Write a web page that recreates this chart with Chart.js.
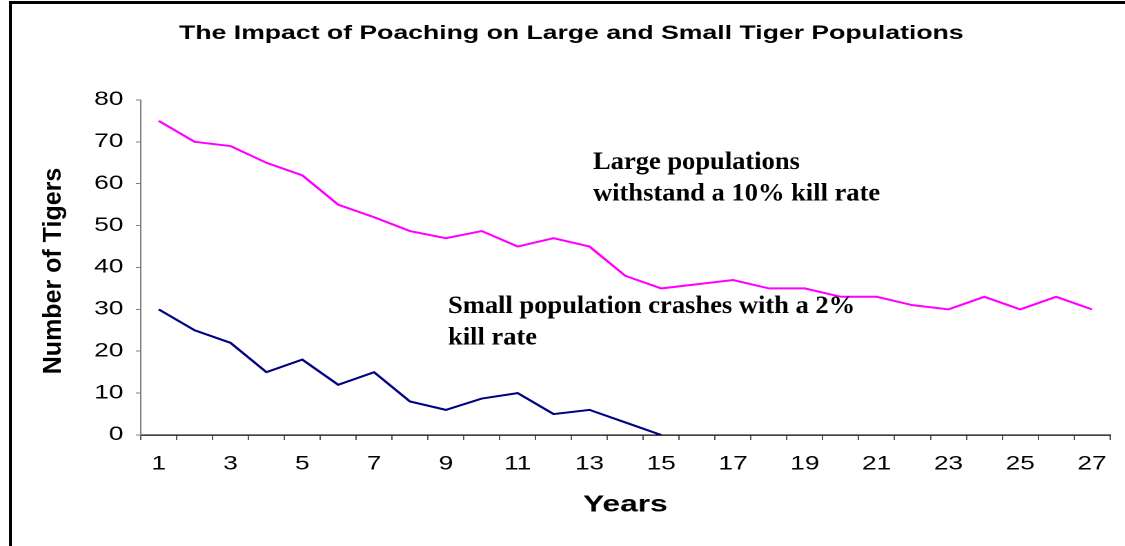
<!DOCTYPE html>
<html>
<head>
<meta charset="utf-8">
<title>The Impact of Poaching on Large and Small Tiger Populations</title>
<script src="https://cdn.jsdelivr.net/npm/chart.js@4.4.1/dist/chart.umd.min.js"></script>
<style>
  html, body { margin: 0; padding: 0; background: #fff; overflow: hidden; }
  #frame {
    position: absolute; left: 9px; top: 1px; width: 1120px; height: 560px;
    border-top: 3px solid #000; border-left: 3px solid #000;
  }
  #wrap {
    position: absolute; left: 0; top: 0; width: 815px; height: 546px;
    transform: scaleX(1.38); transform-origin: 0 0;
  }
  #myChart { width: 815px; height: 546px; }
</style>
</head>
<body>
<div id="wrap"><canvas id="myChart" width="815" height="546"></canvas></div>
<div id="frame"></div>
<script>
'use strict';

//////////////// chart data ///////////////////

let years = ['1', '2', '3', '4', '5', '6', '7', '8', '9', '10', '11', '12', '13', '14',
  '15', '16', '17', '18', '19', '20', '21', '22', '23', '24', '25', '26', '27'];

let largePop = [75, 70, 69, 65, 62, 55, 52, 48.7, 47, 48.7, 45, 47, 45, 38,
  35, 36, 37, 35, 35, 33, 33, 31, 30, 33, 30, 33, 30];

let smallPop = [30, 25, 22, 15, 18, 12, 15, 8, 6, 8.7, 10, 5, 6, 3, 0];

let yMin = 0;
let yMax = 80;
let yStep = 10;

let largeNote = ['Large populations', 'withstand a 10% kill rate'];
let smallNote = ['Small population crashes with a 2%', 'kill rate'];

//////////////// the page is stretched sideways by this much ///////////////////

const STRETCH = 1.38;

////////////// extra texts: y title and the two notes /////////////////////////////

let textPlugin = {
  id: 'textPlugin',
  afterDraw(chart) {
    let ctx = chart.ctx;
    ctx.save();
    ctx.fillStyle = '#000';

    // y axis title, kept unstretched
    ctx.save();
    ctx.translate(54 / STRETCH, 271);
    ctx.scale(1 / STRETCH, 1);
    ctx.rotate(-Math.PI / 2);
    ctx.font = "bold 25px 'Liberation Sans', Arial, sans-serif";
    ctx.textAlign = 'center';
    ctx.textBaseline = 'middle';
    ctx.fillText('Number of Tigers', 0, 0);
    ctx.restore();

    // notes
    function note(lines, x, y) {
      for (let i = 0; i < lines.length; i++) {
        ctx.save();
        ctx.translate(x / STRETCH, y + i * 31.5);
        ctx.scale(1.06 / STRETCH, 1);
        ctx.font = "bold 25px 'Liberation Serif', 'Times New Roman', serif";
        ctx.textAlign = 'left';
        ctx.textBaseline = 'alphabetic';
        ctx.fillText(lines[i], 0, 0);
        ctx.restore();
      }
    }
    note(largeNote, 593, 169);
    note(smallNote, 448, 313);

    ctx.restore();
  }
};

///////////////// the chart /////////////////////////

Chart.defaults.font.family = "'Liberation Sans', Arial, sans-serif";
Chart.defaults.color = '#000';

let ctx = document.getElementById('myChart').getContext('2d');
let myChart = new Chart(ctx, {
  type: 'line',
  data: {
    labels: years,
    datasets: [{
      label: 'Large population',
      data: largePop,
      borderColor: '#ff00ff',
      borderWidth: 2,
      pointRadius: 0,
      tension: 0,
      fill: false
    }, {
      label: 'Small population',
      data: smallPop,
      borderColor: '#000080',
      borderWidth: 2,
      pointRadius: 0,
      tension: 0,
      fill: false
    }]
  },
  options: {
    responsive: false,
    devicePixelRatio: 2,
    animation: false,
    layout: {
      padding: { left: 20, right: 7, top: 0, bottom: 0 }
    },
    plugins: {
      legend: { display: false },
      tooltip: { enabled: false },
      title: {
        display: true,
        text: 'The Impact of Poaching on Large and Small Tiger Populations',
        color: '#000',
        font: { size: 19.3, weight: 'bold' },
        padding: { top: 22, bottom: 54.8 }
      }
    },
    scales: {
      x: {
        offset: true,
        grid: {
          offset: true,
          drawOnChartArea: false,
          drawTicks: true,
          tickLength: 5,
          color: '#555'
        },
        border: { color: '#000', width: 1.3 },
        ticks: {
          autoSkip: false,
          maxRotation: 0,
          padding: 13,
          font: { size: 19 },
          callback: function (val, i) {
            return i % 2 === 0 ? years[i] : '';
          }
        },
        title: {
          display: true,
          text: 'Years',
          font: { size: 23, weight: 'bold' },
          padding: { top: 0, bottom: 27 }
        },
        afterFit: function (scale) {
          scale.height = 111;
        }
      },
      y: {
        min: yMin,
        max: yMax,
        grid: {
          drawOnChartArea: false,
          drawTicks: true,
          tickLength: 3.6,
          color: '#808080'
        },
        border: { color: '#808080', width: 1 },
        ticks: {
          stepSize: yStep,
          padding: 9,
          font: { size: 19 }
        },
        afterFit: function (scale) {
          scale.width = 82;
        }
      }
    }
  },
  plugins: [textPlugin]
});
</script>
</body>
</html>
